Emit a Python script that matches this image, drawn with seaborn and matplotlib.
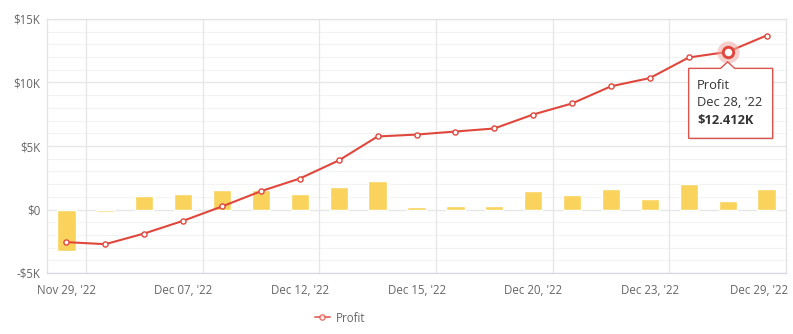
import numpy as np
import pandas as pd
import matplotlib
matplotlib.use("Agg")
import matplotlib.pyplot as plt
import matplotlib.transforms as mtransforms
from matplotlib.patches import Polygon
from matplotlib.lines import Line2D
from matplotlib.ticker import FixedLocator, MultipleLocator, FuncFormatter
import seaborn as sns

# Trading days shown on the category axis
dates = ["Nov 29, '22", "Dec 01, '22", "Dec 05, '22", "Dec 07, '22", "Dec 08, '22",
         "Dec 09, '22", "Dec 12, '22", "Dec 13, '22", "Dec 14, '22", "Dec 15, '22",
         "Dec 16, '22", "Dec 19, '22", "Dec 20, '22", "Dec 21, '22", "Dec 22, '22",
         "Dec 23, '22", "Dec 27, '22", "Dec 28, '22", "Dec 29, '22"]

# Daily profit (bars) and running profit (line), in dollars
daily = [-3230, -180, 1100, 1230, 1500, 1570, 1230, 1780, 2260, 210,
         310, 310, 1470, 1150, 1630, 840, 2020, 680, 1630]
profit = [-2570, -2730, -1890, -890, 240, 1440, 2440, 3860, 5750, 5900,
          6140, 6380, 7480, 8350, 9700, 10350, 11970, 12412, 13700]

shown_ticks = [0, 3, 6, 9, 12, 15, 18]
highlight = 17

df = pd.DataFrame({"date": dates, "daily": daily, "profit": profit})
df["pos"] = np.arange(len(df))

sns.set_theme(style="white")
plt.rcParams["font.family"] = ["Open Sans", "DejaVu Sans"]

RED = "#e0473c"
YELLOW = "#f9d35b"
GRID = "#e6e6e6"
MINOR = "#f3f3f3"
TXT = "#666666"

fig = plt.figure(figsize=(7.93, 3.34), dpi=100)
W, H = 793, 334
ax = fig.add_axes([47 / W, (H - 273) / H, (786 - 47) / W, (273 - 19) / H])

sns.barplot(data=df, x="pos", y="daily", color=YELLOW, width=0.47,
            saturation=1, ax=ax, zorder=2, order=list(df["pos"]))
sns.lineplot(data=df, x="pos", y="profit", color=RED, lw=1.5, ax=ax,
             marker="o", markersize=3.7, markerfacecolor="white",
             markeredgecolor=RED, markeredgewidth=1.0, zorder=4)

ax.set_xlim(-0.5, len(df) - 0.5)
ax.set_ylim(-5000, 15000)
ax.set_xlabel("")
ax.set_ylabel("")

# grid: major every $5K, minor every $1K, vertical separators every third day
ax.yaxis.set_major_locator(MultipleLocator(5000))
ax.grid(False)
for v in np.arange(-5000, 15001, 1000):
    if v % 5000:
        ax.axhline(v, color=MINOR, lw=0.8, zorder=0)
    else:
        ax.axhline(v, color=GRID, lw=0.9, zorder=0)
for p in shown_ticks[:-1]:
    ax.axvline(p + 0.5, color=GRID, lw=0.9, zorder=0)

def money(v, _):
    if v == 0:
        return "$0"
    s = "-" if v < 0 else ""
    return f"{s}${abs(v) / 1000:.0f}K"

ax.yaxis.set_major_formatter(FuncFormatter(money))
ax.xaxis.set_major_locator(FixedLocator(shown_ticks))
ax.set_xticklabels([dates[i] for i in shown_ticks])
ax.tick_params(axis="both", length=0, labelsize=8.3, colors=TXT)
ax.tick_params(axis="x", pad=8)
ax.tick_params(axis="y", pad=5)
last = ax.get_xticklabels()[-1]
last.set_transform(last.get_transform() +
                   mtransforms.ScaledTranslation(-7.5 / 100, 0, fig.dpi_scale_trans))

for side, sp in ax.spines.items():
    sp.set_visible(True)
    sp.set_color("#e3e3e3")
    sp.set_linewidth(0.9)
ax.spines["bottom"].set_color("#d5d8e4")

# highlighted point with halo
hx, hy = df.loc[highlight, "pos"], df.loc[highlight, "profit"]
ax.plot([hx], [hy], "o", ms=16, color="#f2aaa6", alpha=0.55, zorder=5, mec="none")
ax.plot([hx], [hy], "o", ms=7.5, mfc="white", mec=RED, mew=2.1, zorder=6)

# tooltip
fig.canvas.draw()
px, py = ax.transData.transform((hx, hy))
L, R, T, B = px - 39, px + 45, py - 16.5, py - 86.5
tip = py - 10
verts = [(L, T), (px - 7, T), (px, tip), (px + 7, T), (R, T), (R, B), (L, B)]
shadow = Polygon([(x + 1.5, y - 1.5) for x, y in verts], closed=True,
                 transform=None, facecolor="#000000", alpha=0.08,
                 edgecolor="none", zorder=9)
box = Polygon(verts, closed=True, transform=None, facecolor="white",
              edgecolor="#d9534f", lw=1.0, zorder=10)
fig.patches.extend([shadow, box])
tx = (L + 8.5) / W
fig.text(tx, (py - 33.3) / H, "Profit", fontsize=9.3, color="#333333",
         va="center", ha="left", zorder=11)
fig.text(tx, (py - 50.6) / H, dates[highlight], fontsize=9.3, color="#333333",
         va="center", ha="left", zorder=11)
fig.text(tx, (py - 69) / H, f"${hy / 1000:.3f}K", fontsize=9.3,
         color="#333333", fontweight="bold", va="center", ha="left", zorder=11)

# legend
handle = Line2D([], [], color=RED, lw=1.4, marker="o", markersize=3.8,
                markerfacecolor="white", markeredgecolor=RED, markeredgewidth=1.0,
                alpha=0.75)
fig.legend([handle], ["Profit"], loc="center", bbox_to_anchor=(340 / W, 1 - 318 / H),
           frameon=False, fontsize=8.3, handlelength=1.3, handletextpad=0.5,
           labelcolor=TXT)

fig.savefig("out.png", dpi=100, facecolor="white")
